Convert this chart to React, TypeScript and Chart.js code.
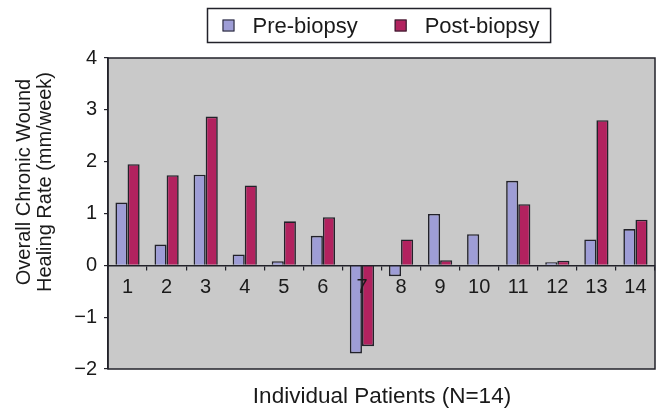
import React, { useEffect, useRef } from "react";
import { Chart, registerables } from "chart.js";

Chart.register(...registerables);

const categories = ["1", "2", "3", "4", "5", "6", "7", "8", "9", "10", "11", "12", "13", "14"];
const preBiopsy = [1.21, 0.4, 1.75, 0.21, 0.08, 0.57, -1.7, -0.21, 0.99, 0.6, 1.63, 0.06, 0.5, 0.7];
const postBiopsy = [1.95, 1.74, 2.87, 1.54, 0.85, 0.93, -1.56, 0.5, 0.1, -0.02, 1.18, 0.09, 2.8, 0.88];
const seriesLabels = ["Pre-biopsy", "Post-biopsy"];
const yMin = -2;
const yMax = 4;
const yTitleLines = ["Overall Chronic Wound", "Healing Rate (mm/week)"];
const xTitle = "Individual Patients (N=14)";

const FONT = '"Liberation Sans", Arial, Helvetica, sans-serif';
const DARK = "#22222a";
const PRE_COLOR = "#9e9dd6";
const POST_COLOR = "#b2225f";
const PLOT_BG = "#c9c9c9";

const decorPlugin = {
  id: "decor",
  beforeDraw(chart: any) {
    const { ctx, chartArea: a } = chart;
    ctx.save();
    ctx.fillStyle = PLOT_BG;
    ctx.fillRect(a.left, a.top, a.right - a.left, a.bottom - a.top);
    ctx.restore();
  },
  afterDraw(chart: any) {
    const { ctx, chartArea: a } = chart;
    ctx.save();
    // plot frame
    ctx.strokeStyle = DARK;
    ctx.lineWidth = 1.5;
    ctx.strokeRect(a.left, a.top, a.right - a.left, a.bottom - a.top);

    // legend
    ctx.font = `22px ${FONT}`;
    ctx.textBaseline = "middle";
    ctx.textAlign = "left";
    const ds = chart.data.datasets;
    const marker = 12;
    const gapMT = 18;
    const gapItems = 37;
    const padL = 15;
    const padR = 11;
    const widths = ds.map((d: any) => ctx.measureText(d.label).width);
    let total = padL + padR;
    widths.forEach((w: number, i: number) => {
      total += marker + gapMT + w + (i > 0 ? gapItems : 0);
    });
    const cx = 379;
    const boxL = Math.round(cx - total / 2) + 0.5;
    const boxT = 8.5;
    const boxH = 34;
    ctx.lineWidth = 1.5;
    ctx.strokeStyle = DARK;
    ctx.strokeRect(boxL, boxT, total, boxH);
    let x = boxL + padL;
    const cy = boxT + boxH / 2;
    ds.forEach((d: any, i: number) => {
      if (i > 0) x += gapItems;
      ctx.fillStyle = d.backgroundColor;
      ctx.fillRect(x, cy - marker / 2, marker, marker);
      ctx.lineWidth = 1;
      ctx.strokeStyle = DARK;
      ctx.strokeRect(x + 0.5, cy - marker / 2 + 0.5, marker - 1, marker - 1);
      x += marker + gapMT;
      ctx.fillStyle = "#1a1a1a";
      ctx.fillText(d.label, x, cy + 1);
      x += widths[i];
    });

    // y title
    ctx.font = `20px ${FONT}`;
    ctx.fillStyle = "#1a1a1a";
    ctx.textAlign = "center";
    ctx.textBaseline = "middle";
    const yCenter = 182;
    const lineXs = [24.5, 45];
    yTitleLines.forEach((t, i) => {
      ctx.save();
      ctx.translate(lineXs[i], yCenter);
      ctx.rotate(-Math.PI / 2);
      ctx.fillText(t, 0, 0);
      ctx.restore();
    });

    // x title
    ctx.font = `22.5px ${FONT}`;
    ctx.textBaseline = "alphabetic";
    ctx.fillText(xTitle, 382, 403);
    ctx.restore();
  },
};

export default function App() {
  const ref = useRef<HTMLCanvasElement | null>(null);
  useEffect(() => {
    if (!ref.current) return;
    const chart = new Chart(ref.current, {
      type: "bar",
      data: {
        labels: categories,
        datasets: [
          {
            label: seriesLabels[0],
            data: preBiopsy,
            backgroundColor: PRE_COLOR,
            borderColor: DARK,
            borderWidth: 1.6,
            categoryPercentage: 0.62,
            barPercentage: 1.0,
          },
          {
            label: seriesLabels[1],
            data: postBiopsy,
            backgroundColor: POST_COLOR,
            borderColor: DARK,
            borderWidth: 1.6,
            categoryPercentage: 0.62,
            barPercentage: 1.0,
          },
        ],
      },
      options: {
        animation: false,
        responsive: false,
        maintainAspectRatio: false,
        layout: { padding: { left: 0, right: 9, top: 58, bottom: 46 } },
        plugins: {
          legend: { display: false },
          tooltip: { enabled: false },
          title: { display: false },
        },
        scales: {
          x: {
            position: { y: 0 } as any,
            afterFit: (s: any) => {
              s.height = 0;
            },
            grid: {
              display: true,
              drawOnChartArea: false,
              drawTicks: true,
              tickLength: 4,
              color: DARK,
              lineWidth: 1.2,
              offset: true,
              z: 1,
            },
            border: { display: true, color: DARK, width: 1.5, z: 1 },
            ticks: {
              color: "#1a1a1a",
              font: { family: FONT, size: 20 },
              padding: 6,
              maxRotation: 0,
              autoSkip: false,
              z: 2,
            },
          },
          y: {
            min: yMin,
            max: yMax,
            afterFit: (s: any) => {
              s.width = 108;
            },
            grid: {
              display: true,
              drawOnChartArea: false,
              drawTicks: true,
              tickLength: 4,
              color: DARK,
              lineWidth: 1.2,
            },
            border: { display: true, color: DARK, width: 1.5 },
            ticks: {
              stepSize: 1,
              color: "#1a1a1a",
              font: { family: FONT, size: 20 },
              padding: 7,
              callback: (v: any) => (Number(v) < 0 ? "\u2212" + Math.abs(Number(v)) : String(v)),
            },
          },
        },
      },
      plugins: [decorPlugin],
    });
    return () => chart.destroy();
  }, []);
  return (
    <div style={{ position: "fixed", left: 0, top: 0, width: 664, height: 415, background: "#fff" }}>
      <canvas ref={ref} width={664} height={415} style={{ display: "block" }} />
    </div>
  );
}
